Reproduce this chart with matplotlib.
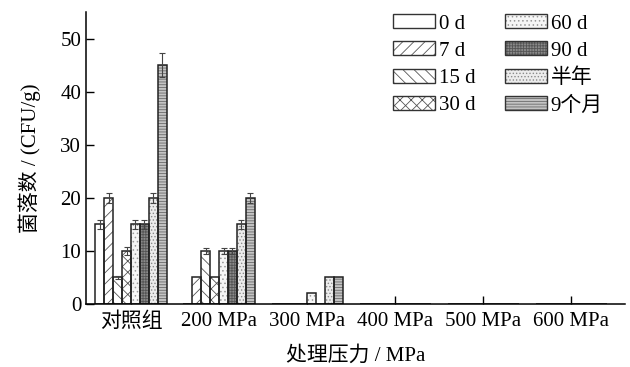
import matplotlib
matplotlib.use("Agg")
import matplotlib.pyplot as plt
from matplotlib.patches import Patch
import numpy as np

plt.rcParams['font.family'] = ['Liberation Serif', 'Noto Sans CJK SC']
plt.rcParams['hatch.linewidth'] = 0.6

categories = ['对照组', '200 MPa', '300 MPa', '400 MPa', '500 MPa', '600 MPa']
series = ['0 d', '7 d', '15 d', '30 d', '60 d', '90 d', '半年', '9个月']
values = {
    '0 d':  [15, 0, 0, 0, 0, 0],
    '7 d':  [20, 5, 0, 0, 0, 0],
    '15 d': [5, 10, 0, 0, 0, 0],
    '30 d': [10, 5, 0, 0, 0, 0],
    '60 d': [15, 10, 2, 0, 0, 0],
    '90 d': [15, 10, 0, 0, 0, 0],
    '半年': [20, 15, 5, 0, 0, 0],
    '9个月': [45, 20, 5, 0, 0, 0],
}
errors = {
    '0 d':  [0.8, 0, 0, 0, 0, 0],
    '7 d':  [1.0, 0, 0, 0, 0, 0],
    '15 d': [0.2, 0.6, 0, 0, 0, 0],
    '30 d': [0.7, 0, 0, 0, 0, 0],
    '60 d': [0.8, 0.5, 0, 0, 0, 0],
    '90 d': [0.8, 0.5, 0, 0, 0, 0],
    '半年': [1.0, 0.8, 0, 0, 0, 0],
    '9个月': [2.3, 1.0, 0, 0, 0, 0],
}

styles = {
    '0 d':  dict(facecolor='white', hatch=None, hc='#555555'),
    '7 d':  dict(facecolor='white', hatch='///', hc='#555555'),
    '15 d': dict(facecolor='white', hatch='\\\\\\', hc='#555555'),
    '30 d': dict(facecolor='white', hatch='xxx', hc='#555555'),
    '60 d': dict(facecolor='#f6f6f6', hatch='....', hc='#999999'),
    '90 d': dict(facecolor='#8a8a8a', hatch='++++++', hc='#555555'),
    '半年': dict(facecolor='#ececec', hatch='.....', hc='#8a8a8a'),
    '9个月': dict(facecolor='#c4c4c4', hatch='------', hc='#6a6a6a'),
}

fig = plt.figure(figsize=(6.3, 3.67), dpi=100)
ax = fig.add_axes([86/630, 1-304/367, (625-86)/630, (304-12)/367])

x = np.arange(len(categories))
w = 0.101
n = len(series)
handles = []
for i, s in enumerate(series):
    pos = x + (i - (n-1)/2) * w
    st = styles[s]
    vals = np.array(values[s], dtype=float)
    errs = np.array(errors[s], dtype=float)
    ax.bar(pos, vals, width=w, facecolor=st['facecolor'], edgecolor=st['hc'],
           hatch=st['hatch'], linewidth=0, zorder=2)
    ax.bar(pos, vals, width=w, facecolor='none', edgecolor='#222222',
           linewidth=1.1, zorder=2.5)
    handles.append((Patch(facecolor=st['facecolor'], edgecolor=st['hc'], hatch=st['hatch'], linewidth=0),
                    Patch(facecolor='none', edgecolor='#333333', linewidth=1.0)))
    mask = errs > 0
    ax.errorbar(pos[mask], vals[mask], yerr=errs[mask], fmt='none', ecolor='#444444',
                elinewidth=0.8, capsize=2.5, capthick=0.8, zorder=3)

ax.set_xlim(-0.511, 5.61)
ax.set_ylim(0, 55)
ax.set_yticks([0, 10, 20, 30, 40, 50])
ax.set_xticks(x)
ax.set_xticklabels(categories)
ax.spines['top'].set_visible(False)
ax.spines['right'].set_visible(False)
for sp in ['left', 'bottom']:
    ax.spines[sp].set_linewidth(1.1)
ax.tick_params(axis='both', direction='in', length=6, width=1.0, labelsize=15)
ax.tick_params(axis='x', pad=6)
ax.set_ylabel('菌落数 / (CFU/g)', fontsize=15, labelpad=14)
ax.set_xlabel('处理压力 / MPa', fontsize=15, labelpad=10)

leg = ax.legend(handles, series, ncol=2, loc='upper right', bbox_to_anchor=(0.982, 1.035),
                frameon=False, fontsize=15, handlelength=2.0, handleheight=0.65,
                labelspacing=0.38, columnspacing=1.4, handletextpad=0.2, borderpad=0.1)

fig.savefig('out.png', dpi=100)
